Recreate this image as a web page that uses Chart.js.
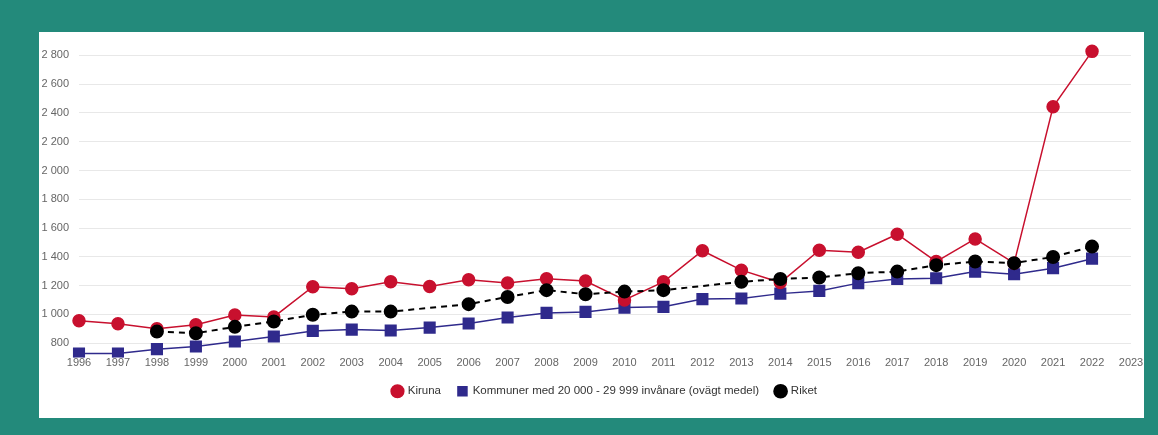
<!DOCTYPE html>
<html>
<head>
<meta charset="utf-8">
<title>Kiruna</title>
<script src="https://cdn.jsdelivr.net/npm/chart.js"></script>
<style>
  html, body { margin: 0; padding: 0; }
  body { width: 1158px; height: 435px; background: #238a7b; position: relative; overflow: hidden; }
  #panel { position: absolute; left: 39px; top: 32px; width: 1105px; height: 386px; background: #fff; }
</style>
</head>
<body>
<div id="panel"><canvas id="myChart" width="1105" height="386"></canvas></div>
<script>
    // år
    var years = ['1996','1997','1998','1999','2000','2001','2002','2003','2004','2005','2006','2007','2008','2009',
                 '2010','2011','2012','2013','2014','2015','2016','2017','2018','2019','2020','2021','2022','2023'];

    // värden
    var kiruna = [955, 935, 900, 928, 995, 982, 1192, 1178, 1226, 1194, 1240, 1218, 1248, 1232,
                  1100, 1226, 1442, 1307, 1221, 1446, 1432, 1557, 1367, 1524, 1356, 2443, 2828, null];
    var kommuner = [728, 728, 758, 776, 811, 846, 885, 894, 888, 908, 936, 978, 1010, 1017,
                    1047, 1052, 1106, 1110, 1144, 1163, 1217, 1246, 1251, 1297, 1279, 1321, 1387, null];
    var riket = [null, null, 880, 869, 913, 950, 997, 1019, 1019, null, 1071, 1121, 1168, 1140,
                 1158, 1168, null, 1226, 1246, 1256, 1286, 1297, 1342, 1367, 1356, 1399, 1471, null];

    var yMin = 700, yMax = 2900;

    function fmt(v) {
        return String(v).replace(/\B(?=(\d{3})+(?!\d))/g, ' ');
    }

    var ctx = document.getElementById('myChart').getContext('2d');
    var chart = new Chart(ctx, {
        type: 'line',
        data: {
            labels: years,
            datasets: [{
                label: 'Kiruna',
                data: kiruna,
                borderColor: '#c8102e',
                backgroundColor: '#c8102e',
                borderWidth: 1.5,
                pointStyle: 'circle',
                pointRadius: 6,
                order: 1
            }, {
                label: 'Kommuner med 20 000 - 29 999 invånare (ovägt medel)',
                data: kommuner,
                borderColor: '#2f2a8c',
                backgroundColor: '#2f2a8c',
                borderWidth: 1.5,
                pointStyle: 'rect',
                pointRadius: 7.5,
                order: 2
            }, {
                label: 'Riket',
                data: riket,
                borderColor: '#000',
                backgroundColor: '#000',
                borderWidth: 2,
                borderDash: [6, 5],
                pointStyle: 'circle',
                pointRadius: 6,
                spanGaps: true,
                order: 0
            }]
        },
        options: {
            responsive: false,
            animation: false,
            layout: { padding: { left: 0, right: 13, top: 0, bottom: 11 } },
            scales: {
                x: {
                    offset: false,
                    grid: { display: false, drawTicks: false },
                    border: { display: false },
                    ticks: {
                        autoSkip: false,
                        maxRotation: 0,
                        padding: 0,
                        color: '#666',
                        font: { family: 'Liberation Sans', size: 11, lineHeight: 1 }
                    }
                },
                y: {
                    min: yMin,
                    max: yMax,
                    border: { display: false },
                    grid: { color: '#e8e8e8', drawTicks: false },
                    afterFit: function (scale) {
                        scale.width = 40;
                        scale.paddingTop = 8;
                        scale.paddingBottom = 0;
                    },
                    ticks: {
                        stepSize: 100,
                        autoSkip: false,
                        padding: 10,
                        color: '#666',
                        font: { family: 'Liberation Sans', size: 11 },
                        callback: function (v) { return v % 200 === 0 ? fmt(v) : null; }
                    }
                }
            },
            plugins: {
                tooltip: { enabled: false },
                legend: {
                    position: 'bottom',
                    fullSize: false,
                    labels: {
                        usePointStyle: true,
                        boxWidth: 9,
                        boxHeight: 9,
                        padding: 17,
                        color: '#333',
                        font: { family: 'Liberation Sans', size: 11.5 },
                        sort: function (a, b) { return a.datasetIndex - b.datasetIndex; }
                    }
                }
            }
        }
    });
</script>
</body>
</html>
